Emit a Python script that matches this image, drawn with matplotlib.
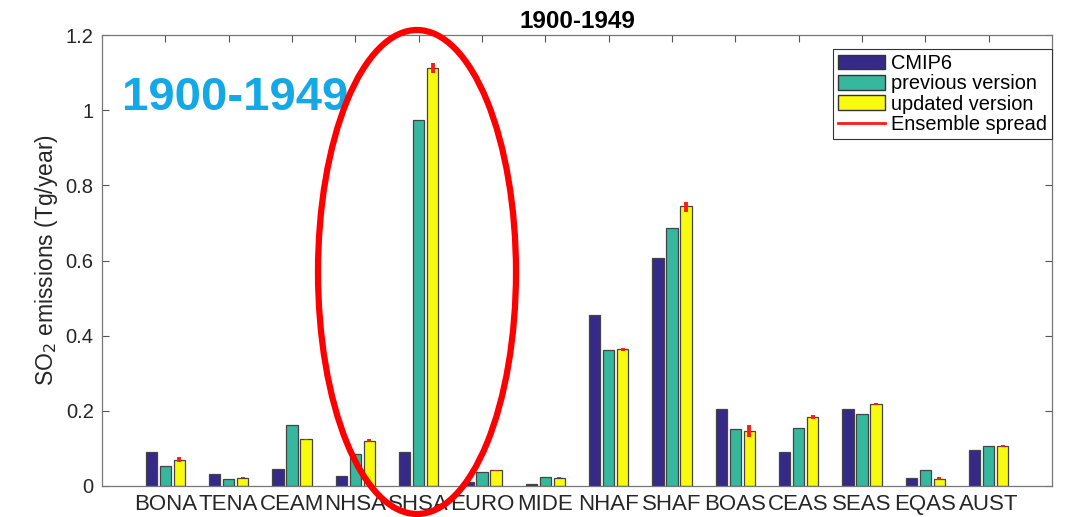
import matplotlib.pyplot as plt
import numpy as np
from matplotlib.patches import Ellipse, Patch
from matplotlib.lines import Line2D

plt.rcParams['font.family'] = ['Liberation Sans', 'DejaVu Sans']

regioes = ['BONA', 'TENA', 'CEAM', 'NHSA', 'SHSA', 'EURO', 'MIDE',
           'NHAF', 'SHAF', 'BOAS', 'CEAS', 'SEAS', 'EQAS', 'AUST']
cmip6 = [0.091, 0.033, 0.044, 0.027, 0.091, 0.010, 0.005,
         0.455, 0.607, 0.206, 0.090, 0.206, 0.022, 0.095]
anterior = [0.054, 0.018, 0.161, 0.085, 0.975, 0.037, 0.024,
            0.362, 0.687, 0.152, 0.153, 0.191, 0.043, 0.106]
atualizado = [0.070, 0.022, 0.124, 0.120, 1.112, 0.042, 0.022,
              0.364, 0.746, 0.147, 0.184, 0.219, 0.019, 0.106]
spread_min = [0.064, 0.021, 0.122, 0.116, 1.098, 0.041, 0.021,
              0.358, 0.728, 0.131, 0.178, 0.215, 0.017, 0.105]
spread_max = [0.076, 0.024, 0.126, 0.124, 1.125, 0.043, 0.023,
              0.368, 0.757, 0.162, 0.190, 0.222, 0.024, 0.108]
yticks = [0, 0.2, 0.4, 0.6, 0.8, 1, 1.2]
yticklabels = ['0', '0.2', '0.4', '0.6', '0.8', '1', '1.2']

cores = ['#352A87', '#36B89E', '#F9FB0E']

fig = plt.figure(figsize=(10.79, 5.17), dpi=100)
ax = fig.add_axes([0.0945, 0.06, 0.8805, 0.872])

x = np.arange(1, len(regioes) + 1)
larg = 0.18
desl = 0.222
series = [cmip6, anterior, atualizado]
for k, (s, c) in enumerate(zip(series, cores)):
    ax.bar(x + (k - 1) * desl, s, larg, color=c, edgecolor='#444444', linewidth=0.9, zorder=2)

# Ensemble spread
ax.vlines(x + desl, spread_min, spread_max, color='#FF1A1A', linewidth=2.8, zorder=3)

ax.set_xlim(0, 15)
ax.set_ylim(0, 1.2)
ax.set_xticks(x)
ax.set_xticklabels(regioes, fontsize=16, color='#262626')
ax.set_yticks(yticks)
ax.set_yticklabels(yticklabels, fontsize=14.5, color='#262626')
ax.tick_params(direction='in', top=True, right=True, length=5, color='#555555', pad=6)
for sp in ax.spines.values():
    sp.set_color('#777777')
    sp.set_linewidth(0.9)
ax.set_ylabel('SO$_2$ emissions (Tg/year)', fontsize=16.5, color='#262626', labelpad=4)
ax.set_title('1900-1949', fontsize=17.5, fontweight='bold', pad=5)

handles = [Patch(facecolor=cores[0], edgecolor='#333333'),
           Patch(facecolor=cores[1], edgecolor='#333333'),
           Patch(facecolor=cores[2], edgecolor='#333333'),
           Line2D([0], [0], color='#FF1A1A', linewidth=2)]
leg = ax.legend(handles, ['CMIP6', 'previous version', 'updated version', 'Ensemble spread'],
                loc='upper right', bbox_to_anchor=(0.9995, 0.969), fontsize=14.4,
                fancybox=False, framealpha=1, edgecolor='#333333',
                handlelength=2.35, handleheight=0.75, handletextpad=0.3,
                labelspacing=0.06, borderpad=0.25, borderaxespad=0)
leg.get_frame().set_linewidth(0.8)

fig.text(0.113, 0.788, '1900-1949', fontsize=34, fontweight='bold', color='#14A9E6')

elipse = Ellipse((417 / 1079, 1 - 272 / 517), 198 / 1079, 484 / 517,
                 transform=fig.transFigure, fill=False, edgecolor='#FF0000',
                 linewidth=4.5, clip_on=False, zorder=5)
fig.add_artist(elipse)

fig.savefig('out.png', dpi=100)
